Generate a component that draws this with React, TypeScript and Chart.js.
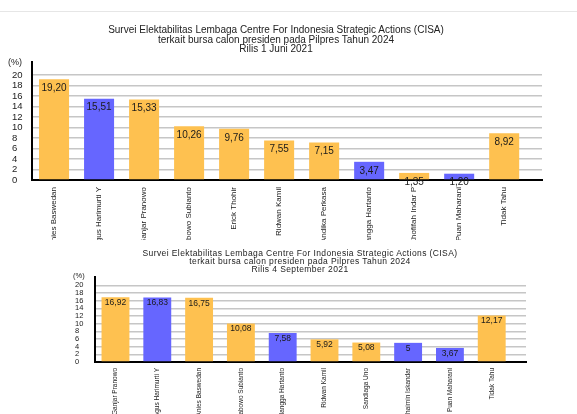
import React, { useEffect, useRef } from "react";
import { Chart, registerables } from "chart.js";

Chart.register(...registerables);

const FONT = "'Liberation Sans', Arial, Helvetica, sans-serif";
const ORANGE = "#FEC150";
const BLUE = "#6666FF";

const title1 = [
  "Survei Elektabilitas Lembaga Centre For Indonesia Strategic Actions (CISA)",
  "terkait bursa calon presiden pada Pilpres Tahun 2024",
  "Rilis 1 Juni 2021",
];
const candidates1 = [
  "Anies Baswedan",
  "Agus Harimurti Y",
  "Ganjar Pranowo",
  "Prabowo Subianto",
  "Erick Thohir",
  "Ridwan Kamil",
  "Andika Perkasa",
  "Airlangga Hartanto",
  "Khofifah Indar P",
  "Puan Maharani",
  "Tidak Tahu",
];
const values1 = [19.2, 15.51, 15.33, 10.26, 9.76, 7.55, 7.15, 3.47, 1.35, 1.2, 8.92];
const blue1 = ["Agus Harimurti Y", "Airlangga Hartanto", "Puan Maharani"];

const title2 = [
  "Survei Elektabilitas Lembaga Centre For Indonesia Strategic Actions (CISA)",
  "terkait bursa calon presiden pada Pilpres Tahun 2024",
  "Rilis 4 September 2021",
];
const candidates2 = [
  "Ganjar Pranowo",
  "Agus Harimurti Y",
  "Anies Baswedan",
  "Prabowo Subianto",
  "Airlangga Hartanto",
  "Ridwan Kamil",
  "Sandiaga Uno",
  "Muhaimin Iskandar",
  "Puan Maharani",
  "Tidak Tahu",
];
const values2 = [16.92, 16.83, 16.75, 10.08, 7.58, 5.92, 5.08, 5, 3.67, 12.17];
const blue2 = ["Agus Harimurti Y", "Airlangga Hartanto", "Muhaimin Iskandar", "Puan Maharani"];

const yTicks = [0, 2, 4, 6, 8, 10, 12, 14, 16, 18, 20];

const fmt = (v: number) => (Number.isInteger(v) ? String(v) : v.toFixed(2).replace(".", ","));

type PanelProps = {
  cats: string[];
  vals: number[];
  blues: string[];
  top: number;
  height: number;
  padL: number;
  padR: number;
  padT: number;
  yW: number;
  xH: number;
  yMax: number;
  xMax: number;
  yFont: number;
  xFont: number;
  xPad: number;
  valFont: number;
  valDy: number;
};

function BarPanel(p: PanelProps) {
  const ref = useRef<HTMLCanvasElement | null>(null);
  useEffect(() => {
    if (!ref.current) return;
    const labelPlugin = {
      id: "valueLabels",
      afterDatasetsDraw(chart: any) {
        const ctx = chart.ctx;
        const meta = chart.getDatasetMeta(0);
        ctx.save();
        ctx.font = `${p.valFont}px ${FONT}`;
        ctx.fillStyle = "#1a1a1a";
        ctx.textAlign = "center";
        ctx.textBaseline = "middle";
        meta.data.forEach((el: any, i: number) => {
          ctx.fillText(fmt(p.vals[i]), el.x, el.y + p.valDy);
        });
        ctx.restore();
      },
    };
    const chart = new Chart(ref.current, {
      type: "bar",
      data: {
        datasets: [
          {
            data: p.vals.map((v, i) => ({ x: i, y: v })) as any,
            backgroundColor: p.cats.map((c) => (p.blues.includes(c) ? BLUE : ORANGE)),
            borderWidth: 0,
            categoryPercentage: 1,
            barPercentage: 0.667,
          },
        ],
      },
      options: {
        responsive: false,
        animation: false,
        devicePixelRatio: 1,
        layout: { padding: { left: p.padL, right: p.padR, top: p.padT, bottom: 0 } },
        plugins: { legend: { display: false }, tooltip: { enabled: false }, title: { display: false } },
        scales: {
          x: {
            type: "linear",
            offset: false,
            min: -0.49,
            max: p.xMax,
            afterBuildTicks: (s: any) => {
              s.ticks = p.cats.map((_, i) => ({ value: i }));
            },
            afterFit: (s: any) => {
              s.height = p.xH;
            },
            grid: { display: false, drawTicks: false },
            border: { display: true, color: "#000", width: 2 },
            ticks: {
              autoSkip: false,
              maxRotation: 90,
              minRotation: 90,
              padding: p.xPad,
              color: "#222",
              font: { size: p.xFont, family: FONT },
              callback: (v: any) => p.cats[v as number] ?? "",
            },
          },
          y: {
            type: "linear",
            min: 0,
            max: p.yMax,
            afterBuildTicks: (s: any) => {
              s.ticks = yTicks.map((v) => ({ value: v }));
            },
            afterFit: (s: any) => {
              s.width = p.yW;
            },
            grid: { color: "#c6c6c6", lineWidth: 1.5, drawTicks: false },
            border: { display: true, color: "#000", width: 2 },
            ticks: {
              autoSkip: false,
              crossAlign: "far",
              padding: 0,
              color: "#222",
              font: { size: p.yFont, family: FONT },
            },
          },
        },
      },
      plugins: [labelPlugin],
    });
    return () => chart.destroy();
  }, []);
  return (
    <canvas
      ref={ref}
      width={577}
      height={p.height}
      style={{ position: "absolute", left: 0, top: p.top, width: 577, height: p.height }}
    />
  );
}

function Title(props: { lines: string[]; top: number; center: number; size: number; lh: number; ls: number }) {
  return (
    <div
      style={{
        position: "absolute",
        top: props.top,
        left: props.center - 300,
        width: 600,
        textAlign: "center",
        fontFamily: FONT,
        fontSize: props.size,
        lineHeight: `${props.lh}px`,
        letterSpacing: props.ls,
        color: "#222",
        whiteSpace: "nowrap",
      }}
    >
      {props.lines.map((l, i) => (
        <div key={i}>{l}</div>
      ))}
    </div>
  );
}

export default function App() {
  return (
    <div style={{ position: "absolute", left: 0, top: 0, width: 577, height: 414, background: "#fff", overflow: "hidden" }}>
      <div style={{ position: "absolute", left: 0, top: 11, width: 577, height: 1, background: "#e6e6e6" }} />
      <BarPanel
        cats={candidates1}
        vals={values1}
        blues={blue1}
        top={0}
        height={240}
        padL={12}
        padR={35}
        padT={62}
        yW={20}
        xH={60}
        yMax={22.5}
        xMax={10.84}
        yFont={9.5}
        xFont={8}
        xPad={7}
        valFont={10}
        valDy={9}
      />
      <BarPanel
        cats={candidates2}
        vals={values2}
        blues={blue2}
        top={240}
        height={174}
        padL={75}
        padR={51}
        padT={37}
        yW={20}
        xH={52}
        yMax={22.2}
        xMax={9.82}
        yFont={7.5}
        xFont={6.5}
        xPad={6}
        valFont={8.5}
        valDy={5.5}
      />
      <Title lines={title1} top={25} center={276} size={10} lh={9.5} ls={0} />
      <Title lines={title2} top={249} center={300} size={8.5} lh={8} ls={0.4} />
      <div style={{ position: "absolute", left: 8, top: 57, fontFamily: FONT, fontSize: 9, color: "#222" }}>(%)</div>
      <div style={{ position: "absolute", left: 73, top: 271, fontFamily: FONT, fontSize: 7.5, color: "#222" }}>(%)</div>
    </div>
  );
}
